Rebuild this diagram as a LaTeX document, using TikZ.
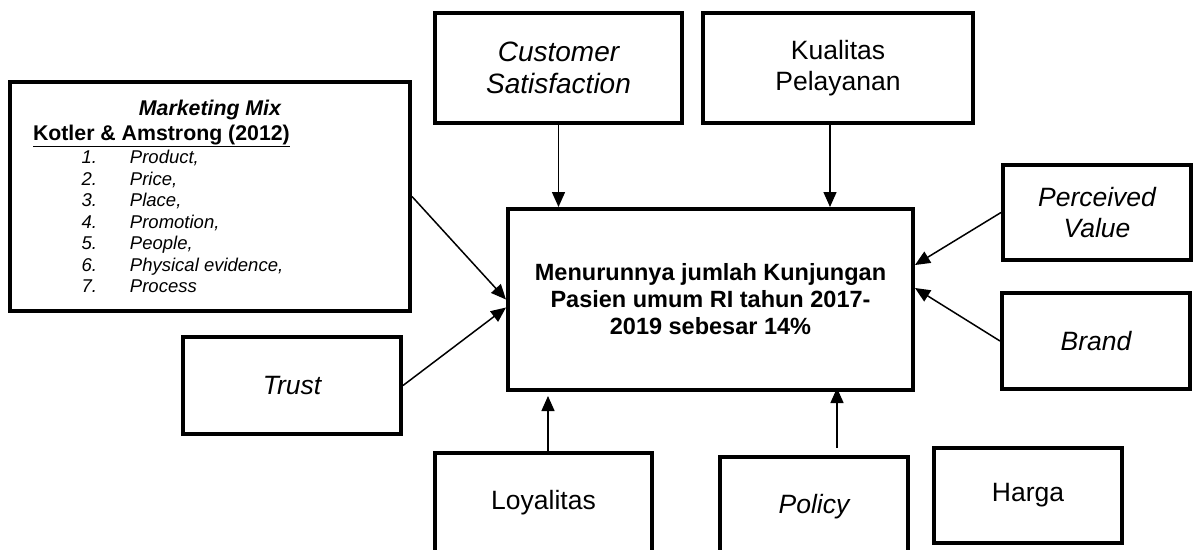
\documentclass[tikz,border=0pt]{standalone}
\usepackage{fontspec}
\setmainfont{Liberation Sans}
\usetikzlibrary{arrows.meta}

\begin{document}
\begin{tikzpicture}[
                    x=1pt, y=-1pt,
                    box style/.style={
                        draw=black,
                        line width=4pt,
                        fill=white,
                        align=center,
                        inner sep=0pt,
                        font=\fontsize{26.5}{31}\selectfont
                    },
                    italic style/.style={
                        box style,
                        font=\fontsize{26.5}{31}\selectfont\itshape
                    },
                    arrow style/.style={
                        draw=black,
                        line width=1.5pt,
                        -{Triangle[length=15pt,width=13pt]}
                    }
                ]
                    \useasboundingbox (0,0) rectangle (1194,549);
                    \node[box style, minimum width=400pt, minimum height=229pt, text width=354pt, align=left] (mix) at (210,196.5) {%
                        \spaceskip=0pt\xspaceskip=0pt
                        {\centering\fontsize{21.3}{25}\selectfont\bfseries\itshape Marketing Mix\par}
                        {\fontsize{21.3}{25}\selectfont\bfseries\underline{Kotler \& Amstrong (2012)}\par}
                        \vspace{1.5pt}
                        \fontsize{18.5}{21.5}\selectfont\itshape
                        \makebox[64pt][r]{1.}\hspace{33pt}Product,\par
                        \makebox[64pt][r]{2.}\hspace{33pt}Price,\par
                        \makebox[64pt][r]{3.}\hspace{33pt}Place,\par
                        \makebox[64pt][r]{4.}\hspace{33pt}Promotion,\par
                        \makebox[64pt][r]{5.}\hspace{33pt}People,\par
                        \makebox[64pt][r]{6.}\hspace{33pt}Physical evidence,\par
                        \makebox[64pt][r]{7.}\hspace{33pt}Process\par};
                    \node[box style, minimum width=405pt, minimum height=181pt, font=\fontsize{23.5}{27}\selectfont\bfseries] (main) at (710.5,299.5) {Menurunnya jumlah Kunjungan\\Pasien umum RI tahun 2017-\\2019 sebesar 14\%};
                    \node[italic style, minimum width=247pt, minimum height=110pt, font=\fontsize{28}{32}\selectfont\itshape] (cs) at (558.5,68) {Customer\\Satisfaction};
                    \node[box style, minimum width=270pt, minimum height=110pt] (kp) at (838,68) {Kualitas\\Pelayanan};
                    \node[italic style, minimum width=188pt, minimum height=95pt] (pv) at (1097,212.5) {Perceived\\Value};
                    \node[italic style, minimum width=188pt, minimum height=96pt] (br) at (1096,341) {Brand};
                    \node[italic style, minimum width=218pt, minimum height=97pt] (tr) at (292,385.5) {Trust};
                    \node[box style, minimum width=217pt, minimum height=100pt] (lo) at (543.5,503) {Loyalitas};
                    \node[italic style, minimum width=188pt, minimum height=100pt] (pol) at (814,507) {Policy};
                    \node[box style, minimum width=188pt, minimum height=95pt] (hg) at (1028,495.5) {Harga};

                    \coordinate (kp out) at ([xshift=-8pt]kp.south);
                    \coordinate (lo out) at ([xshift=4.5pt]lo.north);
                    \coordinate (pol out) at ([xshift=23pt, yshift=7pt]pol.north);
                    \draw[arrow style] (mix.east) -- (main.west);
                    \draw[arrow style] (tr.east) -- ([yshift=-8pt]main.west);
                    \draw[arrow style] (cs.south) -- (cs.south |- main.north);
                    \draw[arrow style] (kp out) -- (kp out |- main.north);
                    \draw[arrow style] (pv.west) -- ([yshift=34.5pt]main.east);
                    \draw[arrow style] (br.west) -- ([yshift=11.5pt]main.east);
                    \draw[arrow style, shorten >=4pt] (lo out) -- (lo out |- main.south);
                    \draw[arrow style, shorten >=-4pt] (pol out) -- (pol out |- main.south);
                \end{tikzpicture}
\end{document}
